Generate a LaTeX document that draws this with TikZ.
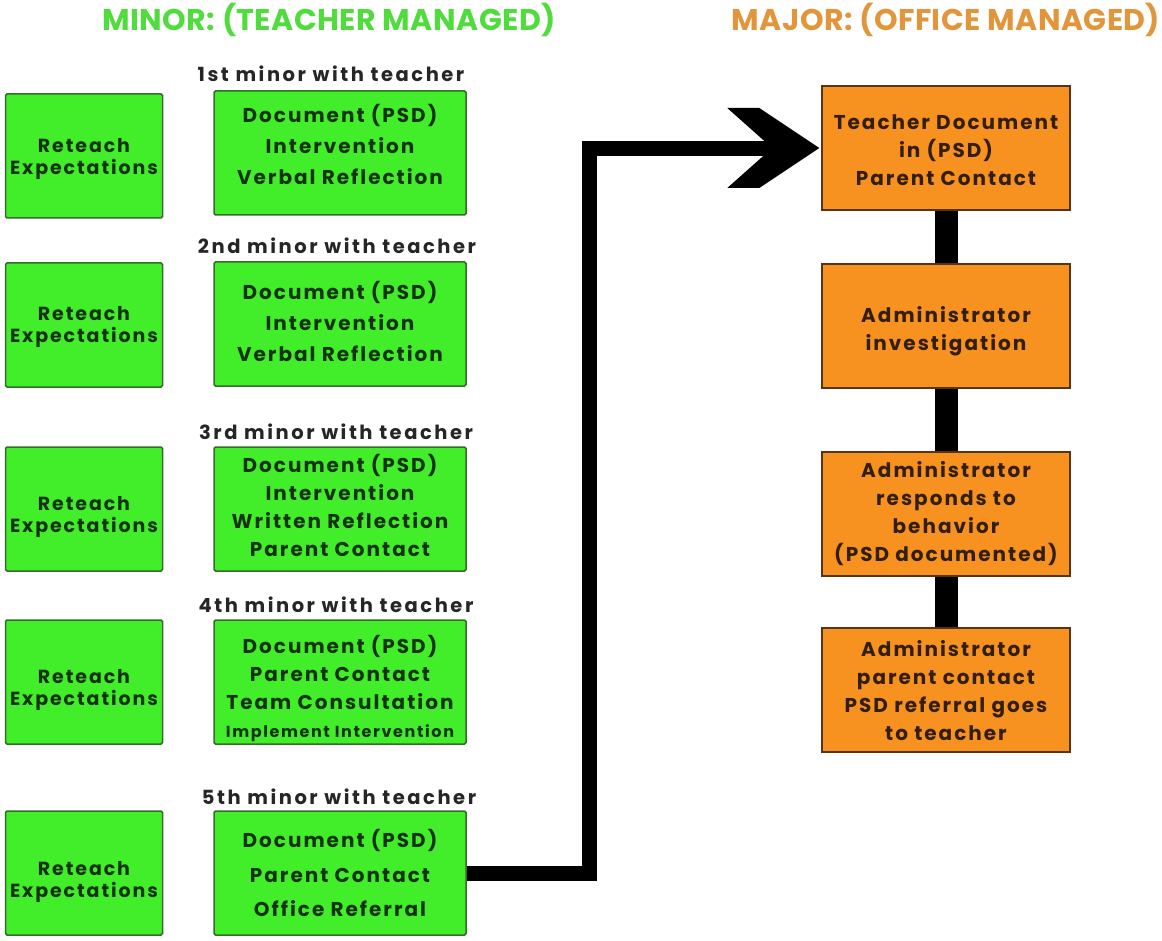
\documentclass[tikz,border=0pt]{standalone}
\usepackage{fontspec}
\setmainfont{Poppins}
\newfontfamily\boxfont{Poppins}[LetterSpace=10]
\newfontfamily\labfont{Poppins}[LetterSpace=13]
\newfontfamily\headfont{Poppins}[LetterSpace=1.5]
\usetikzlibrary{calc}
\definecolor{gfill}{RGB}{66,238,42}
\definecolor{gdraw}{RGB}{50,110,40}
\definecolor{gtext}{RGB}{22,50,18}
\definecolor{ofill}{RGB}{247,145,32}
\definecolor{odraw}{RGB}{90,50,20}
\definecolor{otext}{RGB}{50,30,12}
\definecolor{ghead}{RGB}{80,220,60}
\definecolor{ohead}{RGB}{226,150,60}
\newcommand{\lines}[2]{\raisebox{#1pt}[\height][\depth]{\begin{tabular}{@{}c@{}}#2\end{tabular}}}
\begin{document}
\begin{tikzpicture}[x=1pt,y=-1pt,
  gbox/.style={draw=gdraw,fill=gfill,line width=1.5pt,rounded corners=1.5pt,text=gtext,align=center,inner sep=0pt,
    font=\fontsize{20}{31}\boxfont\bfseries},
  rbox/.style={gbox,minimum width=157pt,minimum height=124pt,font=\fontsize{19}{22}\boxfont\bfseries},
  mbox/.style={gbox,minimum width=252pt,minimum height=124pt},
  obox/.style={draw=odraw,fill=ofill,line width=1.5pt,text=otext,align=center,inner sep=0pt,
    minimum width=248pt,minimum height=124pt,font=\fontsize{20}{28}\boxfont\bfseries},
  lab/.style={text=black!85,font=\fontsize{19.5}{20}\labfont\bfseries},
  head/.style={font=\fontsize{30}{34}\headfont\bfseries},
  conn/.style={line width=15pt,black},
  bar/.style={line width=23pt,black}
]
\useasboundingbox (0,0) rectangle (1162,941);
\node[head,text=ghead] (hmin) at (329,20) {MINOR: (TEACHER MANAGED)};
\node[head,text=ohead] (hmaj) at (946,20) {MAJOR: (OFFICE MANAGED)};

\node[rbox] (r1) at (84,156) {\lines{-3}{Reteach\\Expectations}};
\node[rbox] (r2) at (84,325) {\lines{-2}{Reteach\\Expectations}};
\node[rbox] (r3) at (84,509) {\lines{-8}{Reteach\\Expectations}};
\node[rbox] (r4) at (84,682) {\lines{-8}{Reteach\\Expectations}};
\node[rbox] (r5) at (84,873) {\lines{-9}{Reteach\\Expectations}};

\node[mbox] (m1) at (340,153) {\lines{5.5}{Document (PSD)\\Intervention\\Verbal Reflection}};
\node[mbox] (m2) at (340,324) {\lines{0}{Document (PSD)\\Intervention\\Verbal Reflection}};
\node[mbox,font=\fontsize{20}{28}\boxfont\bfseries] (m3) at (340,509) {\lines{0}{Document (PSD)\\Intervention\\Written Reflection\\Parent Contact}};
\node[mbox,font=\fontsize{20}{28}\boxfont\bfseries] (m4) at (340,682) {\lines{-8}{Document (PSD)\\Parent Contact\\Team Consultation\\{\fontsize{16}{28}\selectfont Implement Intervention}}};
\node[mbox,font=\fontsize{20}{34.5}\boxfont\bfseries] (m5) at (340,873) {\lines{-2.5}{Document (PSD)\\Parent Contact\\Office Referral}};

\node[lab] (l1) at (331,74) {1st minor with teacher};
\node[lab] (l2) at (337,246) {2nd minor with teacher};
\node[lab] (l3) at (336,432) {3rd minor with teacher};
\node[lab] (l4) at (336,605) {4th minor with teacher};
\node[lab] (l5) at (339,797) {5th minor with teacher};

\node[obox] (o1) at (946,148) {\lines{-3.5}{Teacher Document\\in (PSD)\\Parent Contact}};
\node[obox] (o2) at (946,326) {\lines{-5}{Administrator\\investigation}};
\node[obox] (o3) at (946,514) {\lines{0}{Administrator\\responds to\\behavior\\(PSD documented)}};
\node[obox] (o4) at (946,690) {\lines{-2.5}{Administrator\\parent contact\\PSD referral goes\\to teacher}};

\draw[bar] (o1.south) -- (o2.north);
\draw[bar] (o2.south) -- (o3.north);
\draw[bar] (o3.south) -- (o4.north);

\draw[conn,line join=miter] (m5.east) -- ++(123,0) |- ($(o1.west)+(-30,1)$);
\fill[black] ($(o1.west)+(-94,-40)$) -- ($(o1.west)+(-62,-40)$) -- ($(o1.west)+(-2,0)$)
  -- ($(o1.west)+(-62,40)$) -- ($(o1.west)+(-94,40)$) -- ($(o1.west)+(-49,0)$) -- cycle;
\end{tikzpicture}
\end{document}
